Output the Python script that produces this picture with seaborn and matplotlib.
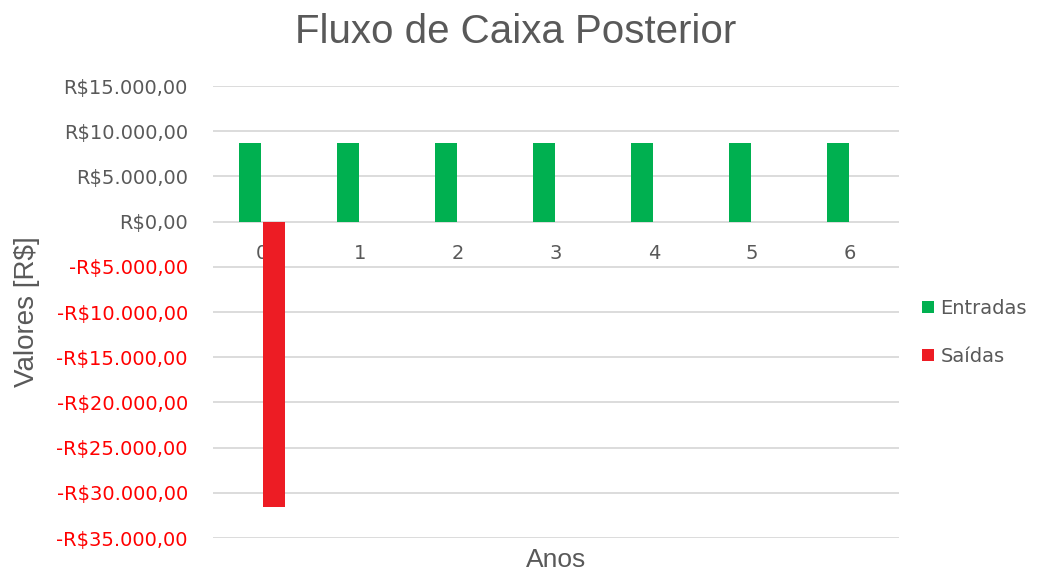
import matplotlib
matplotlib.use('Agg')
import matplotlib.pyplot as plt
import matplotlib.ticker as mticker
import pandas as pd
import seaborn as sns

anos = ['0', '1', '2', '3', '4', '5', '6']
entradas = [8700, 8700, 8700, 8700, 8700, 8700, 8700]
saidas = [-31600, 0, 0, 0, 0, 0, 0]
series = ['Entradas', 'Saídas']
cores = ['#00B050', '#ED1C24']

df = pd.DataFrame({
    'Anos': anos * 2,
    'Valor': entradas + saidas,
    'Serie': [series[0]] * len(anos) + [series[1]] * len(anos),
})

sns.set_style('white')
plt.rcParams['font.family'] = ['DejaVu Sans']
cinza = '#595959'

fig = plt.figure(figsize=(10.37, 5.72), dpi=100)
ax = fig.add_axes([0.2054, 0.0594, 0.6616, 0.7902])

sns.barplot(data=df, x='Anos', y='Valor', hue='Serie', palette=cores,
            width=0.5, gap=0.12, ax=ax, saturation=1, legend=True,
            linewidth=0)

ax.set_ylim(-35000, 15000)
ax.yaxis.set_major_locator(mticker.MultipleLocator(5000))

def fmt(v, _):
    s = f'{abs(v):,.2f}'.replace(',', 'X').replace('.', ',').replace('X', '.')
    return ('-R$' if v < 0 else 'R$') + s

ax.yaxis.set_major_formatter(mticker.FuncFormatter(fmt))
ax.grid(axis='y', color='#D9D9D9', linewidth=1.3)
ax.set_axisbelow(True)
for s in ax.spines.values():
    s.set_visible(False)
ax.spines['bottom'].set_position(('data', 0))
ax.tick_params(axis='both', length=0, labelsize=14, colors=cinza)
ax.tick_params(axis='x', pad=16)
ax.tick_params(axis='y', pad=18)
for lbl in ax.get_yticklabels():
    if lbl.get_text().startswith('-'):
        lbl.set_color('#FF0000')

ax.set_xlabel('Anos', fontsize=19, color=cinza, family=['Liberation Sans'])
ax.xaxis.label.set_va('baseline')
ax.xaxis.set_label_coords(0.5, -0.064)
ax.set_ylabel('Valores [R$]', fontsize=20, color=cinza, family=['Liberation Sans'])
ax.yaxis.label.set_va('center')
ax.yaxis.set_label_coords(-0.271, 0.5)

fig.text(0.497, 0.925, 'Fluxo de Caixa Posterior', fontsize=29, color=cinza,
         family=['Liberation Sans'], ha='center', va='baseline')

ax.legend(loc='center left', bbox_to_anchor=(0.889, 0.419),
          bbox_transform=fig.transFigure, frameon=False, borderpad=0,
          borderaxespad=0, fontsize=14, labelcolor=cinza, handlelength=0.6,
          handleheight=0.6, labelspacing=1.5, handletextpad=0.36)

fig.savefig('out.png', dpi=100)
